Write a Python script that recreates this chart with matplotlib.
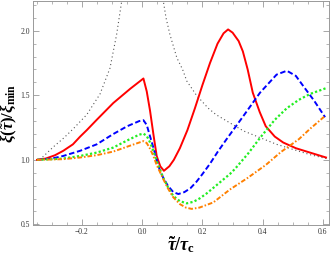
import matplotlib
matplotlib.use("Agg")
import matplotlib.pyplot as plt
from matplotlib.ticker import MultipleLocator

plt.rcParams['mathtext.fontset'] = 'custom'
plt.rcParams['mathtext.rm'] = 'Liberation Serif:bold'
plt.rcParams['mathtext.it'] = 'Liberation Serif:bold:italic'
plt.rcParams['mathtext.bf'] = 'Liberation Serif:bold'

# curva roja (continua)
x_red = [-0.349, -0.32, -0.29, -0.262, -0.23, -0.206, -0.184, -0.151, -0.096, -0.04, -0.007, 0.004,
         0.015, 0.026, 0.037, 0.048, 0.06, 0.072, 0.09, 0.105, 0.125, 0.15, 0.175, 0.20, 0.225,
         0.25, 0.27, 0.285, 0.30, 0.32, 0.334, 0.35, 0.367, 0.39, 0.41, 0.44, 0.468, 0.51, 0.557, 0.61]
y_red = [1.0, 1.01, 1.035, 1.07, 1.12, 1.18, 1.23, 1.31, 1.44, 1.55, 1.61, 1.63,
         1.53, 1.38, 1.20, 1.03, 0.95, 0.915, 0.95, 1.0, 1.09, 1.23, 1.40, 1.58, 1.75,
         1.90, 1.98, 2.01, 1.985, 1.92, 1.84, 1.70, 1.52, 1.37, 1.26, 1.18, 1.134, 1.09, 1.056, 1.018]

# curva azul (discontinua)
x_blue = [-0.349, -0.30, -0.262, -0.206, -0.151, -0.096, -0.05, -0.01, 0.004, 0.015, 0.025, 0.037,
          0.048, 0.059, 0.07, 0.085, 0.103, 0.12, 0.14, 0.16, 0.18, 0.20, 0.225, 0.25, 0.28,
          0.336, 0.391, 0.446, 0.48, 0.51, 0.535, 0.57, 0.607]
y_blue = [1.0, 1.01, 1.03, 1.07, 1.12, 1.2, 1.26, 1.30, 1.307, 1.27, 1.19, 1.095,
          1.0, 0.915, 0.86, 0.80, 0.75, 0.735, 0.75, 0.78, 0.83, 0.89, 0.97, 1.06, 1.16,
          1.34, 1.52, 1.66, 1.69, 1.65, 1.57, 1.46, 1.33]

# curva verde (punteada)
x_green = [-0.349, -0.30, -0.262, -0.206, -0.151, -0.096, -0.05, -0.01, 0.004, 0.015, 0.025, 0.037,
           0.048, 0.06, 0.07, 0.085, 0.103, 0.125, 0.148, 0.17, 0.19, 0.214, 0.25, 0.291, 0.308,
           0.352, 0.391, 0.44, 0.48, 0.52, 0.557, 0.61]
y_green = [1.0, 1.005, 1.01, 1.03, 1.056, 1.095, 1.15, 1.195, 1.203, 1.185, 1.14, 1.07,
           0.99, 0.92, 0.86, 0.79, 0.72, 0.68, 0.663, 0.675, 0.70, 0.74, 0.81, 0.89, 0.93,
           1.05, 1.17, 1.31, 1.40, 1.465, 1.51, 1.555]

# curva naranja (raya-punto)
x_orange = [-0.349, -0.262, -0.206, -0.151, -0.096, -0.04, 0.004, 0.015, 0.025, 0.037, 0.048,
            0.06, 0.07, 0.085, 0.103, 0.125, 0.145, 0.164, 0.19, 0.236, 0.291, 0.35, 0.41,
            0.46, 0.52, 0.557, 0.607]
y_orange = [1.0, 1.005, 1.018, 1.036, 1.064, 1.11, 1.145, 1.13, 1.09, 1.03, 0.96,
            0.90, 0.85, 0.78, 0.71, 0.657, 0.63, 0.62, 0.63, 0.67, 0.77, 0.86, 0.96,
            1.06, 1.16, 1.24, 1.34]

# xi de equilibrio (gris punteada), dos ramas
x_eq_l = [-0.34, -0.295, -0.26, -0.229, -0.184, -0.14, -0.107, -0.085, -0.068, -0.062]
y_eq_l = [1.0, 1.10, 1.17, 1.24, 1.35, 1.51, 1.71, 1.97, 2.23, 2.4]
x_eq_r = [0.066, 0.07, 0.079, 0.092, 0.115, 0.134, 0.148, 0.18, 0.219, 0.245, 0.317, 0.336,
          0.446, 0.557, 0.62]
y_eq_r = [2.4, 2.23, 2.1, 1.97, 1.79, 1.70, 1.61, 1.50, 1.40, 1.35, 1.25, 1.224,
          1.12, 1.04, 1.005]

fig = plt.figure(figsize=(3.32, 2.56), dpi=100)
ax = fig.add_axes([0.0994, 0.121, 0.8916, 0.875])

ax.plot(x_eq_l, y_eq_l, color='#555555', lw=0.8, dashes=(1, 2.5))
ax.plot(x_eq_r, y_eq_r, color='#555555', lw=0.8, dashes=(1, 2.5))
ax.plot(x_red, y_red, color='#ff0000', lw=1.4)
ax.plot(x_blue, y_blue, color='#0000ff', lw=1.4, dashes=(2.8, 1.4))
ax.plot(x_green, y_green, color='#22ee22', lw=1.6, dashes=(1, 1))
ax.plot(x_orange, y_orange, color='#ff8000', lw=1.4, dashes=(2.4, 1, 0.8, 1))

ax.set_xlim(-0.3625, 0.62)
ax.set_ylim(0.495, 2.23)
ax.xaxis.set_minor_locator(MultipleLocator(0.05))
ax.yaxis.set_minor_locator(MultipleLocator(0.1))
ax.set_xticks([-0.2, 0.0, 0.2, 0.4, 0.6])
ax.set_xticklabels(['\u22120.2', '0.0', '0.2', '0.4', '0.6'])
ax.set_yticks([0.5, 1.0, 1.5, 2.0])
ax.set_yticklabels(['0.5', '1.0', '1.5', '2.0'])

ax.tick_params(which='both', direction='in', top=True, right=True, color='#999999',
               labelsize=5.5, labelcolor='#333333', pad=2)
ax.tick_params(which='major', length=4, width=0.6)
ax.tick_params(which='minor', length=2, width=0.5)
for lab in ax.get_xticklabels() + ax.get_yticklabels():
    lab.set_family('Liberation Serif')
for s in ax.spines.values():
    s.set_color('#999999')
    s.set_linewidth(0.7)

ax.set_xlabel(r'$\tilde{\tau}/\tau_{\mathrm{c}}$', fontsize=13)
ax.set_ylabel(r'$\xi(\tilde{\tau})/\xi_{\mathrm{min}}$', fontsize=12)
ax.xaxis.set_label_coords(0.5, -0.04)
ax.yaxis.set_label_coords(-0.047, 0.5)

fig.savefig('out.png', dpi=100)
